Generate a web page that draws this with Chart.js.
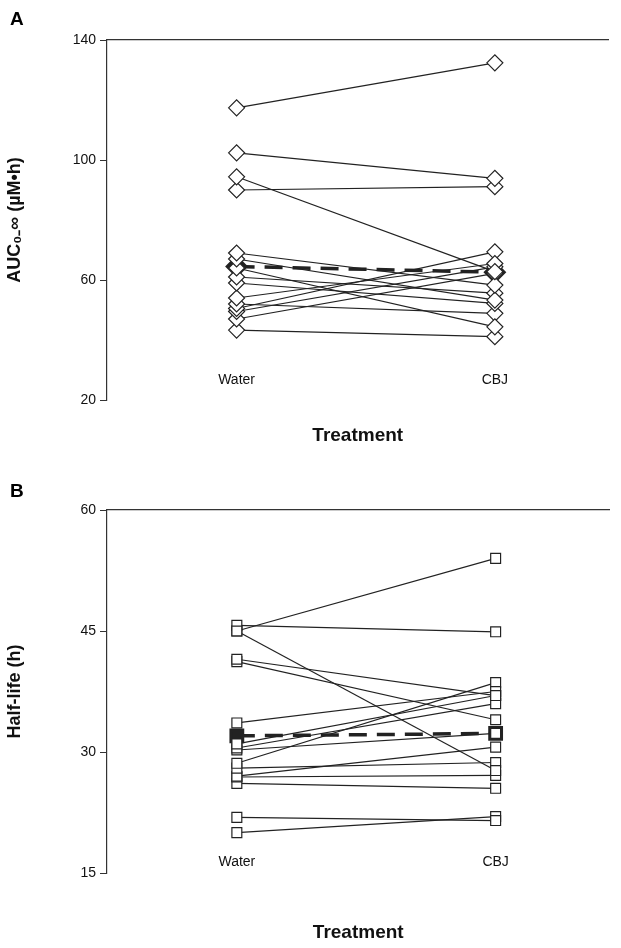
<!DOCTYPE html>
<html><head><meta charset="utf-8">
<script src="https://cdn.jsdelivr.net/npm/chart.js"></script>
<style>
body{margin:0;background:#fff;font-family:"Liberation Sans",Arial,sans-serif;}
.wrap{position:absolute;left:0;width:621px;}
.lab{position:absolute;left:10px;font-weight:bold;font-size:19px;}
</style></head><body>
<div class="wrap" style="top:0;height:470px"><canvas id="a"></canvas></div>
<div class="wrap" style="top:470px;height:478px"><canvas id="b"></canvas></div>
<div class="lab" style="top:8px">A</div>
<div class="lab" style="top:480px">B</div>
<script>
const categories=["Water","CBJ"];
const aucWater=[117.4,102.4,94.4,90,69,67,64,61,59,54,52,50.5,49.5,47,43.3];
const aucCBJ=[132.4,93.9,62.8,91.1,58.3,53.3,44.4,55.6,52.2,65.5,48.9,69.4,64.4,62.2,41.1];
const aucMean=[64.5,62.6];
const aucTicks=[20,60,100,140];
const hlWater=[45,45.7,45.0,41.5,41.2,33.6,31,30.5,30.25,28.6,28,27,26.9,26.1,21.9,20];
const hlCBJ=[54,44.9,27.7,37,34,37.5,37,36,32.3,38.6,28.7,30.6,27.1,25.5,21.5,22];
const hlMean=[32,32.3];
const hlTicks=[15,30,45,60];

function make(id,w,c,m,ticks,style,yTitle,h,labOff,titlePadB,rad){
  const xs=[1,3];
  const ds=w.map((v,i)=>({data:[{x:xs[0],y:v},{x:xs[1],y:c[i]}],showLine:true,borderColor:'#222',borderWidth:1.2,
    pointStyle:style,pointRadius:rad,pointBackgroundColor:'#fff',pointBorderColor:'#222',pointBorderWidth:1.2}));
  ds.push({data:[{x:xs[0],y:m[0]},{x:xs[1],y:m[1]}],showLine:true,borderColor:'#222',borderWidth:3.5,borderDash:[18,10],
    pointStyle:style,pointRadius:rad+1,pointBackgroundColor:'#222',pointBorderColor:'#222'});
  const catLabels={id:'catLabels',afterDraw(ch){
    const ctx=ch.ctx,sx=ch.scales.x,b=ch.chartArea.bottom;
    ctx.save();ctx.fillStyle='#111';ctx.font='14px "Liberation Sans"';ctx.textAlign='center';ctx.textBaseline='middle';
    xs.forEach((v,i)=>ctx.fillText(categories[i],sx.getPixelForValue(v),b-labOff));
    ctx.restore();}};
  new Chart(document.getElementById(id),{type:'scatter',data:{datasets:ds},plugins:[catLabels],
   options:{responsive:true,maintainAspectRatio:false,animation:false,
    plugins:{legend:{display:false},tooltip:{enabled:false}},
    layout:{padding:{top:40,right:0,left:0,bottom:0}},
    scales:{
     x:{type:'linear',min:-0.0035,max:3.88,position:'bottom',
        ticks:{display:false},
        grid:{display:false,drawTicks:false},border:{display:false},
        title:{display:true,text:'Treatment',color:'#111',font:{size:19,weight:'bold',family:'Liberation Sans'},padding:{top:0,bottom:titlePadB}},
        afterFit:s=>{s.height=h;}},
     x2:{type:'linear',min:0,max:4,position:'top',ticks:{display:false},grid:{display:false,drawTicks:false},
        border:{display:true,color:'#333',width:1.2},afterFit:s=>{s.height=0;}},
     y:{min:ticks[0],max:ticks[3],afterBuildTicks:s=>{s.ticks=ticks.map(v=>({value:v}));},
        ticks:{color:'#111',font:{size:14,family:'Liberation Sans'},padding:4},
        grid:{drawOnChartArea:false,tickLength:7,color:'#333'},border:{display:true,color:'#333',width:1.2},
        title:{display:true,text:yTitle,color:'#111',font:{size:18,weight:'bold',family:'Liberation Sans'}},
        afterFit:s=>{s.width=107;}}
    }}});
}
make('a',aucWater,aucCBJ,aucMean,aucTicks,'rectRot','AUC₀₋∞ (µM•h)',70,20,23,8);
make('b',hlWater,hlCBJ,hlMean,hlTicks,'rect','Half-life (h)',75,11,4,7);
</script></body></html>
